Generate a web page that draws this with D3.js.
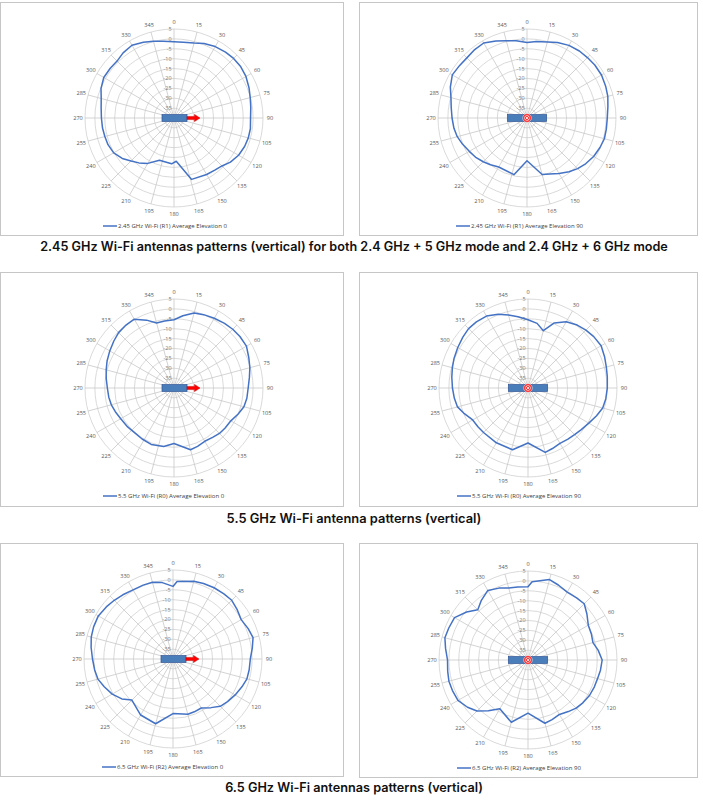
<!DOCTYPE html>
<html><head><meta charset="utf-8">
<script src="https://cdn.jsdelivr.net/npm/d3@7"></script>
<style>body{margin:0;background:#fff;} svg{display:block;}</style>
</head><body>
<svg id="c" width="703" height="800"></svg>
<script>
// ---- data (angle in degrees, gain in dB) ----
const angleTicks = d3.range(0, 360, 15);
const dbTicks = [5, 0, -5, -10, -15, -20, -25, -30, -35];

const pat245E0 = [[0,-1.5],[7,-1.4],[15,-0.8],[22,0.6],[30,1.7],[38,2.3],[45,2.6],[52,2.6],[60,2.0],[68,0.9],[75,-0.1],[82,-0.8],[90,-1.3],[98,-1.0],[105,-1.1],[112,-1.5],[120,-2.3],[128,-3.8],[135,-5.7],[142,-6.5],[150,-7.0],[164,-7.7],[177,-18.1],[183,-16.8],[199,-17.4],[210,-13.5],[218,-11.2],[225,-9.3],[232,-6.8],[240,-4.8],[248,-4.0],[255,-3.8],[262,-3.5],[270,-3.3],[278,-2.8],[285,-1.9],[292,-0.2],[300,1.0],[308,0.9],[315,0.7],[322,1.8],[330,2.5],[338,1.3],[345,0.2],[352,-0.8]];
const pat245E90 = [[0,-1.8],[7,-1.0],[15,-0.2],[22,1.2],[30,2.4],[38,3.0],[45,3.2],[52,3.5],[60,3.5],[68,2.9],[75,2.3],[82,1.3],[90,0.6],[98,0.5],[105,0.5],[112,-0.2],[120,-1.1],[128,-2.4],[135,-3.8],[142,-5.5],[150,-7.6],[158,-9.4],[165,-10.4],[180,-18.4],[193,-10.6],[210,-11.4],[218,-10.0],[225,-8.7],[232,-7.4],[240,-6.3],[248,-4.8],[255,-3.5],[262,-2.7],[270,-2.1],[278,-1.3],[285,-0.2],[292,1.8],[300,3.6],[308,3.2],[315,3.0],[322,3.5],[330,3.8],[338,2.0],[345,0.5],[352,-0.6]];
const pat55E0 = [[0,-5.5],[7,-3.2],[15,-0.7],[22,0.0],[30,0.7],[38,1.5],[45,2.0],[52,2.3],[60,2.3],[68,0.8],[75,-0.3],[82,-1.5],[90,-2.5],[98,-2.8],[105,-3.4],[112,-5.0],[120,-6.8],[128,-7.2],[135,-7.5],[142,-8.3],[150,-8.9],[158,-8.2],[165,-7.7],[180,-11.9],[190,-10.0],[202,-9.2],[212,-9.6],[220,-9.9],[230,-9.4],[240,-8.9],[248,-8.0],[255,-7.2],[262,-6.7],[270,-6.3],[278,-5.4],[285,-4.5],[292,-3.5],[300,-2.5],[308,-1.4],[315,-0.4],[322,0.0],[330,0.2],[338,-3.0],[345,-6.0],[352,-5.8]];
const pat55E90 = [[0,-5.5],[8,-7.0],[15,-10.0],[22,-4.5],[30,-1.3],[38,0.4],[45,1.4],[52,2.2],[60,2.7],[68,1.8],[75,1.0],[82,0.5],[90,0.1],[98,-0.3],[105,-0.9],[112,-2.6],[120,-4.5],[128,-5.8],[135,-6.7],[142,-7.2],[150,-7.7],[158,-7.0],[165,-6.3],[180,-12.2],[194,-7.8],[210,-8.0],[225,-8.2],[232,-8.0],[240,-7.7],[248,-5.3],[255,-3.1],[262,-2.4],[270,-1.8],[278,-1.1],[285,-0.4],[292,0.3],[300,1.0],[308,1.8],[315,2.5],[322,2.4],[330,2.0],[338,0.2],[345,-1.8],[352,-3.6]];
const pat65E0 = [[0,-3.3],[3,-0.8],[15,0.7],[22,1.2],[30,1.6],[38,1.8],[45,2.0],[52,1.0],[60,-0.2],[68,1.0],[75,1.9],[82,0.5],[90,-0.9],[98,-1.1],[105,-1.3],[112,-2.4],[120,-3.7],[128,-5.0],[135,-6.2],[142,-8.8],[150,-11.4],[158,-11.2],[165,-11.1],[180,-12.4],[195,-6.1],[210,-7.3],[225,-10.6],[232,-7.2],[240,-4.5],[248,-2.5],[255,-0.7],[262,0.0],[270,0.7],[278,1.8],[285,2.8],[292,3.3],[300,3.6],[308,2.8],[315,2.0],[322,1.2],[330,0.4],[338,0.3],[345,0.2],[352,-1.0]];
const pat65E90 = [[0,-3.0],[3,-0.4],[15,2.1],[22,0.9],[30,-0.4],[38,-0.1],[45,0.2],[52,-2.2],[60,-4.8],[68,-5.4],[75,-6.0],[82,-4.2],[90,-2.5],[98,-3.0],[105,-3.6],[112,-3.8],[120,-4.1],[128,-4.8],[135,-5.6],[142,-6.9],[150,-8.2],[158,-7.5],[165,-6.9],[180,-13.1],[195,-7.4],[210,-11.5],[218,-7.5],[225,-3.5],[232,-1.2],[240,0.9],[248,1.2],[255,1.4],[262,1.0],[270,0.7],[278,2.1],[285,3.5],[292,3.2],[300,2.9],[308,-0.6],[315,-4.1],[322,-1.7],[330,0.6],[338,-0.8],[345,-2.3],[352,-2.7]];

const legendLabels = [
  "2.45 GHz Wi-Fi (R1) Average Elevation 0",
  "2.45 GHz Wi-Fi (R1) Average Elevation 90",
  "5.5 GHz Wi-Fi (R0) Average Elevation 0",
  "5.5 GHz Wi-Fi (R0) Average Elevation 90",
  "6.5 GHz Wi-Fi (R2) Average Elevation 0",
  "6.5 GHz Wi-Fi (R2) Average Elevation 90"
];
const captions = [
  "2.45 GHz Wi-Fi antennas patterns (vertical) for both 2.4 GHz + 5 GHz mode and 2.4 GHz + 6 GHz mode",
  "5.5 GHz Wi-Fi antenna patterns (vertical)",
  "6.5 GHz Wi-Fi antennas patterns (vertical)"
];
const series = [pat245E0, pat245E90, pat55E0, pat55E90, pat65E0, pat65E90];

// ---- layout ----
const panels = [
  {x:0.5, y:2.5, w:343, h:233, cx:174, cy:118, elev:0},
  {x:359.5, y:2.5, w:338, h:233, cx:527, cy:118, elev:90},
  {x:0.5, y:272.5, w:343, h:234, cx:174, cy:388, elev:0},
  {x:359.5, y:272.5, w:338, h:234, cx:528, cy:388, elev:90},
  {x:0.5, y:543.5, w:343, h:233, cx:173, cy:659, elev:0},
  {x:359.5, y:543.5, w:338, h:234, cx:528, cy:660, elev:90}
];
const captionPos = [{y:246, w:628}, {y:518, w:255}, {y:787, w:258}];

const R = 89;
const rScale = d3.scaleLinear().domain([-40, 5]).range([0, R]);
const toRad = d => d * Math.PI / 180;
const svg = d3.select("#c");

function fitText(sel, target) {
  const node = sel.node();
  const len = node.getComputedTextLength();
  const fs = parseFloat(sel.attr("font-size"));
  if (len > 0) sel.attr("font-size", (fs * target / len).toFixed(2));
}

panels.forEach((p, i) => {
  const g = svg.append("g");
  g.append("rect").attr("x", p.x).attr("y", p.y).attr("width", p.w).attr("height", p.h)
    .attr("fill", "#fff").attr("stroke", "#c6c6c6").attr("stroke-width", 1);

  const c = g.append("g").attr("transform", `translate(${p.cx},${p.cy})`);
  c.selectAll("circle.ring").data(dbTicks).join("circle")
    .attr("r", d => rScale(d)).attr("fill", "none")
    .attr("stroke", "#d0d0d0").attr("stroke-width", 0.8);
  c.selectAll("line.spoke").data(angleTicks).join("line")
    .attr("x1", 0).attr("y1", 0)
    .attr("x2", d => R * Math.sin(toRad(d)))
    .attr("y2", d => -R * Math.cos(toRad(d)))
    .attr("stroke", "#c8c8c8").attr("stroke-width", 0.8);
  c.selectAll("text.ang").data(angleTicks).join("text")
    .attr("x", d => (R + 7) * Math.sin(toRad(d)))
    .attr("y", d => -(R + 7) * Math.cos(toRad(d)))
    .attr("text-anchor", "middle").attr("dominant-baseline", "central")
    .attr("font-family", "Open Sans, sans-serif").attr("font-size", 5.6)
    .attr("fill", "#595959").text(d => d);
  c.selectAll("text.rad").data(dbTicks).join("text")
    .attr("x", -2.5).attr("y", d => -rScale(d))
    .attr("text-anchor", "end").attr("dominant-baseline", "central")
    .attr("font-family", "Open Sans, sans-serif").attr("font-size", 5.4)
    .attr("fill", "#7a7a7a").text(d => d);

  const line = d3.lineRadial()
    .angle(d => toRad(d[0])).radius(d => rScale(d[1]))
    .curve(d3.curveLinearClosed);
  c.append("path").datum(series[i]).attr("d", line)
    .attr("fill", "none").attr("stroke", "#4472c4").attr("stroke-width", 1.5)
    .attr("stroke-linejoin", "round");

  if (p.elev === 0) {
    c.append("rect").attr("x", -12).attr("y", -3.4).attr("width", 25).attr("height", 6.8)
      .attr("fill", "#4a7ebb").attr("stroke", "#2f5597").attr("stroke-width", 0.7);
    c.append("path").attr("d", "M13,-1.6 L20.5,-1.6 L20.5,-3.6 L26,0 L20.5,3.6 L20.5,1.6 L13,1.6 Z")
      .attr("fill", "#ff0000").attr("stroke", "#c00000").attr("stroke-width", 0.5);
  } else {
    c.append("rect").attr("x", -19.5).attr("y", -3.4).attr("width", 39).attr("height", 6.8)
      .attr("fill", "#4a7ebb").attr("stroke", "#2f5597").attr("stroke-width", 0.7);
    c.append("circle").attr("r", 4.2).attr("fill", "#ff0000").attr("stroke", "#ffffff").attr("stroke-width", 0.6);
    c.append("circle").attr("r", 2.6).attr("fill", "#ff3030").attr("stroke", "#ffffff").attr("stroke-width", 0.6);
    c.append("path").attr("d", "M-1.6,-1.6 L1.6,1.6 M-1.6,1.6 L1.6,-1.6")
      .attr("stroke", "#ffffff").attr("stroke-width", 0.8);
  }

  const ly = p.cy + 108;
  const lx = p.cx - 71;
  g.append("line").attr("x1", lx).attr("x2", lx + 14).attr("y1", ly).attr("y2", ly)
    .attr("stroke", "#4472c4").attr("stroke-width", 1.5);
  const lt = g.append("text").attr("x", lx + 15).attr("y", ly)
    .attr("dominant-baseline", "central")
    .attr("font-family", "Open Sans, sans-serif").attr("font-size", 6.5)
    .attr("fill", "#404040").text(legendLabels[i]);
  fitText(lt, legendLabels[i].length * 2.8);
});

captions.forEach((t, i) => {
  const txt = svg.append("text").attr("x", 354).attr("y", captionPos[i].y)
    .attr("text-anchor", "middle").attr("dominant-baseline", "central")
    .attr("font-family", "Inter, Open Sans, sans-serif").attr("font-weight", 600)
    .attr("font-size", 13).attr("fill", "#111").text(t);
  fitText(txt, captionPos[i].w);
});
</script>
</body></html>
